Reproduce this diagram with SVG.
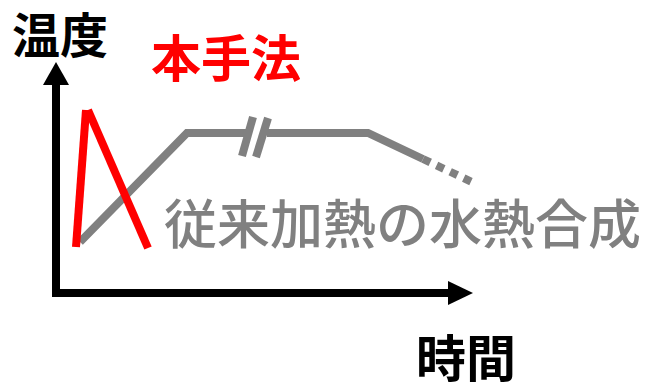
<svg xmlns="http://www.w3.org/2000/svg" width="646" height="385" viewBox="0 0 646 385">
<style>
.lbl{font-family:"Noto Sans CJK JP","Noto Sans CJK SC",sans-serif;}
.axis{stroke:#000;stroke-width:8;fill:none;}
.gray{stroke:#808080;stroke-width:8;fill:none;}
.red{stroke:#ff0000;stroke-width:8;fill:none;}
</style>
<rect width="646" height="385" fill="#fff"/>
<g id="axes">
<polyline class="axis" points="56,85 56,293 450,293"/>
<polygon points="43,85 69,85 56,62" fill="#000"/>
<polygon points="448,281 448,305 473,293" fill="#000"/>
</g>
<g id="connectors">
<polyline class="gray" points="80,242 187,133 247,133"/>
<line class="gray" x1="242" y1="156" x2="253" y2="117"/>
<line class="gray" x1="256" y1="157" x2="268" y2="118"/>
<polyline class="gray" points="267,133 368,133 423,159"/>
<line class="gray" x1="423" y1="159" x2="472" y2="182" stroke-dasharray="8,7"/>
<line class="red" x1="76" y1="247" x2="86" y2="110"/>
<line class="red" x1="88" y1="110" x2="148" y2="248"/>
</g>
<g id="label-temp"><text class="lbl" x="12" y="53" font-size="48" font-weight="bold" fill="#000">温度</text></g>
<g id="label-method"><text class="lbl" x="151" y="77" font-size="50" font-weight="bold" fill="#ff0000">本手法</text></g>
<g id="label-time"><text class="lbl" x="416" y="377" font-size="50" font-weight="bold" fill="#000">時間</text></g>
<g id="label-conv"><text class="lbl" x="164" y="244" font-size="53" fill="#808080" font-weight="500">従来加熱の水熱合成</text></g>
</svg>
